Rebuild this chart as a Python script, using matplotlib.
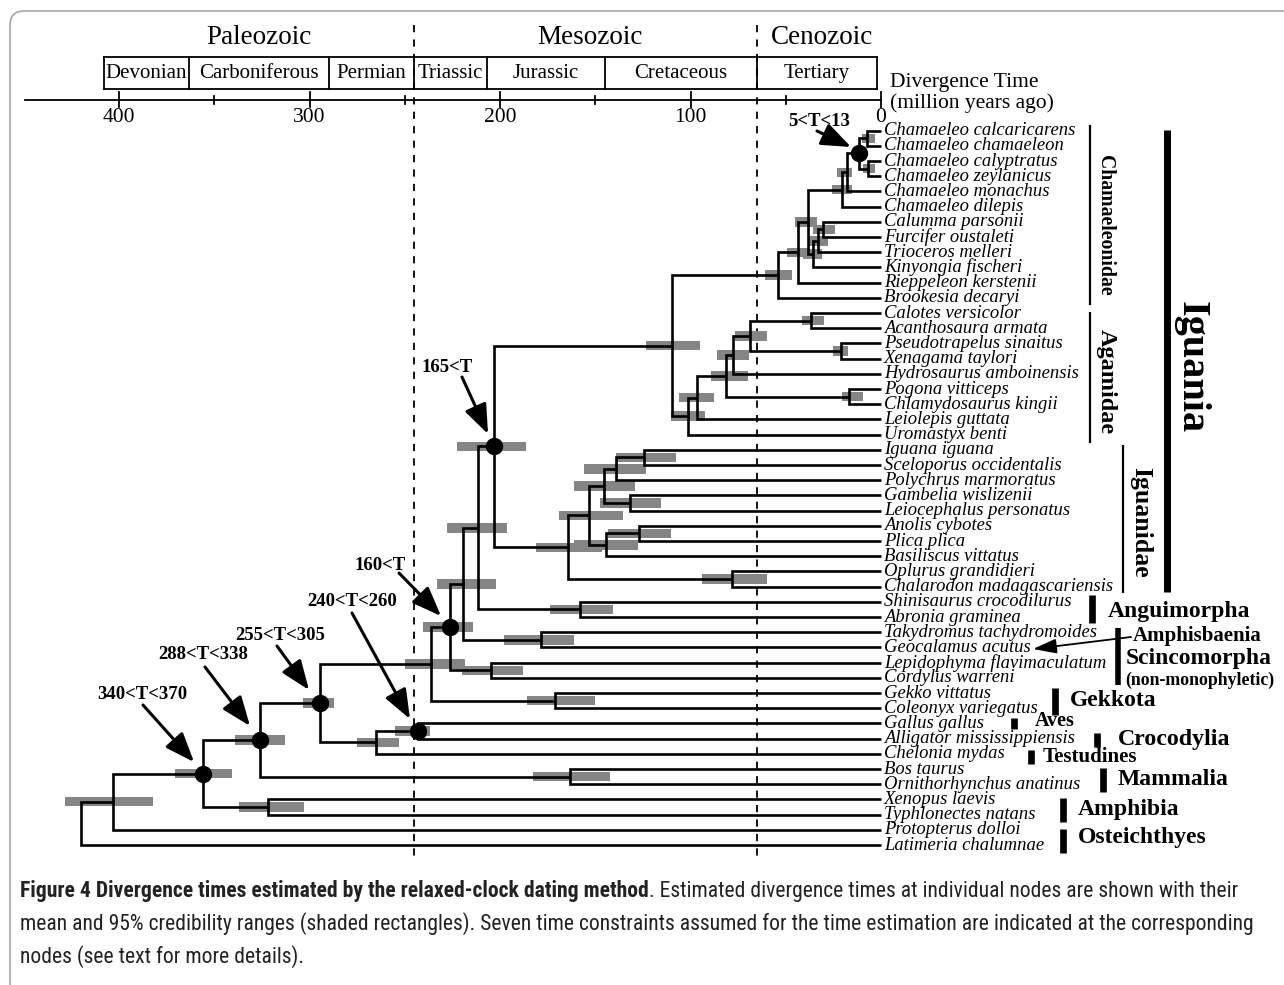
import matplotlib
matplotlib.use("Agg")
import matplotlib.pyplot as plt
from matplotlib.patches import Rectangle, FancyBboxPatch
from matplotlib.path import Path
from matplotlib.patches import PathPatch
from matplotlib import font_manager

# ---------------- data ----------------
taxa = [
    "Chamaeleo calcaricarens", "Chamaeleo chamaeleon", "Chamaeleo calyptratus",
    "Chamaeleo zeylanicus", "Chamaeleo monachus", "Chamaeleo dilepis",
    "Calumma parsonii", "Furcifer oustaleti", "Trioceros melleri",
    "Kinyongia fischeri", "Rieppeleon kerstenii", "Brookesia decaryi",
    "Calotes versicolor", "Acanthosaura armata", "Pseudotrapelus sinaitus",
    "Xenagama taylori", "Hydrosaurus amboinensis", "Pogona vitticeps",
    "Chlamydosaurus kingii", "Leiolepis guttata", "Uromastyx benti",
    "Iguana iguana", "Sceloporus occidentalis", "Polychrus marmoratus",
    "Gambelia wislizenii", "Leiocephalus personatus", "Anolis cybotes",
    "Plica plica", "Basiliscus vittatus", "Oplurus grandidieri",
    "Chalarodon madagascariensis", "Shinisaurus crocodilurus", "Abronia graminea",
    "Takydromus tachydromoides", "Geocalamus acutus", "Lepidophyma flavimaculatum",
    "Cordylus warreni", "Gekko vittatus", "Coleonyx variegatus", "Gallus gallus",
    "Alligator mississippiensis", "Chelonia mydas", "Bos taurus",
    "Ornithorhynchus anatinus", "Xenopus laevis", "Typhlonectes natans",
    "Protopterus dolloi", "Latimeria chalumnae",
]

node_ids = ["n1", "n2", "n3", "n4", "n5", "n6", "n7", "n8", "n9", "n10", "n11",
            "a1", "a2", "a3", "a4", "a5", "a6", "a7", "a8", "acro",
            "i1", "i2", "i3", "i4", "i5", "i6", "i7", "i8", "i9", "igua",
            "angu", "t1", "lace", "t2", "scin", "t3", "gekk", "squa",
            "arch", "arte", "saur", "mamm", "amni", "amph", "tetr", "sarc", "root"]
node_left = ["Chamaeleo calcaricarens", "Chamaeleo calyptratus", "n1", "n3", "n4",
             "Calumma parsonii", "n6", "n7", "n5", "n9", "n10",
             "Calotes versicolor", "Pseudotrapelus sinaitus", "a1", "a3",
             "Pogona vitticeps", "a4", "a6", "a7", "n11",
             "Iguana iguana", "i1", "Gambelia wislizenii", "i2", "Anolis cybotes",
             "i5", "i4", "Oplurus grandidieri", "i7", "acro",
             "Shinisaurus crocodilurus", "igua", "Takydromus tachydromoides", "t1",
             "Lepidophyma flavimaculatum", "t2", "Gekko vittatus", "t3",
             "Gallus gallus", "arch", "squa", "Bos taurus", "saur",
             "Xenopus laevis", "amni", "tetr", "sarc"]
node_right = ["Chamaeleo chamaeleon", "Chamaeleo zeylanicus", "n2", "Chamaeleo monachus",
              "Chamaeleo dilepis", "Furcifer oustaleti", "Trioceros melleri",
              "Kinyongia fischeri", "n8", "Rieppeleon kerstenii", "Brookesia decaryi",
              "Acanthosaura armata", "Xenagama taylori", "a2", "Hydrosaurus amboinensis",
              "Chlamydosaurus kingii", "a5", "Leiolepis guttata", "Uromastyx benti", "a8",
              "Sceloporus occidentalis", "Polychrus marmoratus", "Leiocephalus personatus",
              "i3", "Plica plica", "Basiliscus vittatus", "i6",
              "Chalarodon madagascariensis", "i8", "i9",
              "Abronia graminea", "angu", "Geocalamus acutus", "lace",
              "Cordylus warreni", "scin", "Coleonyx variegatus", "gekk",
              "Alligator mississippiensis", "Chelonia mydas", "arte",
              "Ornithorhynchus anatinus", "mamm", "Typhlonectes natans", "amph",
              "Protopterus dolloi", "Latimeria chalumnae"]
node_age = [7.5, 7.0, 11.5, 18.0, 20.6, 30.3, 32.9, 35.9, 38.2, 43.4, 53.9,
            36.7, 21.2, 68.8, 77.7, 16.8, 81.4, 96.7, 101.5, 109.9,
            124.6, 138.9, 131.7, 145.3, 126.8, 144.3, 153.3, 78.0, 164.4, 203.0,
            158.0, 211.4, 178.5, 219.3, 204.7, 226.2, 171.1, 236.2,
            243.2, 265.1, 294.5, 163.3, 326.0, 321.8, 356.1, 403.3, 420.0]
ci_old = [10.0, 9.4, 15.2, 23.3, 25.9, 35.5, 38.3, 40.9, 45.1, 49.3, 60.9,
          41.6, 25.4, 76.6, 86.1, 20.6, 89.2, 106.0, 110.2, 123.4,
          139.3, 155.7, 147.3, 161.4, 143.3, 161.4, 168.8, 94.1, 181.1, 222.4,
          173.8, 228.0, 197.9, 232.9, 220.1, 240.3, 186.0, 249.9,
          255.1, 274.9, 303.3, 182.7, 339.1, 336.8, 370.6, 428.3, None]
ci_young = [3.2, 3.2, 7.9, 15.4, 15.4, 24.1, 27.8, 31.0, 33.8, 37.3, 46.9,
            29.9, 17.2, 60.0, 69.3, 9.3, 69.8, 87.5, 92.4, 95.0,
            107.6, 123.2, 115.7, 129.2, 110.1, 127.8, 135.6, 59.9, 146.3, 186.4,
            140.5, 196.5, 161.0, 202.1, 187.8, 214.3, 150.1, 218.6,
            236.7, 252.9, 287.0, 142.3, 312.9, 302.7, 340.8, 382.3, None]

constraint_nodes = ["n3", "igua", "t3", "arch", "saur", "amni", "tetr"]
constraint_labels = ["5<T<13", "165<T", "160<T", "240<T<260", "255<T<305",
                     "288<T<338", "340<T<370"]

period_names = ["Devonian", "Carboniferous", "Permian", "Triassic", "Jurassic",
                "Cretaceous", "Tertiary"]
period_bounds = [408, 363, 290, 245, 207, 145, 65, 2]
era_names = ["Paleozoic", "Mesozoic", "Cenozoic"]
era_bounds = [245, 65]
major_ticks = [400, 300, 200, 100, 0]
minor_ticks = [350, 250, 150, 50]

# ---------------- layout helpers (pixel geometry) ----------------
W, H = 1284, 985
X0, PXMA = 881.0, 1.905       # x pixel of 0 Ma, pixels per Ma
Y0, DY = 130.7, 15.2          # y pixel of first taxon, pixels per taxon


def tx(p):
    return (X0 - p) / PXMA


def ty(p):
    return (p - Y0) / DY


SERIF = "Liberation Serif"
fig = plt.figure(figsize=(W / 100, H / 100), dpi=100)
ax = fig.add_axes([0, 0, 1, 1])
ax.set_xlim(tx(0), tx(W))
ax.set_ylim(ty(H), ty(0))
ax.axis("off")

# ---------------- tree ----------------
pos_y = {t: i for i, t in enumerate(taxa)}
pos_x = {t: 0.0 for t in taxa}
LW = 1.9
BAR_H = 9.5 / DY
for nid, a, b, age, lo, hi in zip(node_ids, node_left, node_right, node_age,
                                  ci_young, ci_old):
    ya, yb = pos_y[a], pos_y[b]
    pos_y[nid] = (ya + yb) / 2
    pos_x[nid] = age
    verts = [(pos_x[a], ya), (age, ya), (age, yb), (pos_x[b], yb)]
    ax.add_patch(PathPatch(Path(verts), fill=False, lw=LW, ec="black",
                           joinstyle="miter", capstyle="butt", zorder=3))
    if lo is not None:
        ax.add_patch(Rectangle((lo, pos_y[nid] - BAR_H / 2), hi - lo, BAR_H,
                               fc="#858585", ec="none", zorder=2))

for t in taxa:
    ax.text(tx(884), pos_y[t], t, fontfamily=SERIF, fontstyle="italic",
            fontsize=13.4, ha="left", va="center", zorder=4)

# constraint dots + arrows
label_px = {"n3": (819, 121), "igua": (447, 367), "t3": (380, 565),
            "arch": (352, 601), "saur": (280, 636), "amni": (203, 655),
            "tetr": (142, 695)}
arrow_px = {"n3": ((817, 131), (851, 147)), "igua": ((462, 377), (488, 434)),
            "t3": ((399, 573), (441, 616)), "arch": ((352, 613), (410, 719)),
            "saur": ((277, 646), (309, 690)), "amni": ((205, 667), (250, 726)),
            "tetr": ((143, 705), (194, 762))}
for nid, lab in zip(constraint_nodes, constraint_labels):
    ax.plot(pos_x[nid], pos_y[nid], "o", ms=11.5, color="black", zorder=6)
    lx, ly = label_px[nid]
    ax.text(tx(lx), ty(ly), lab, fontfamily=SERIF, fontweight="bold",
            fontsize=13.5, ha="center", va="center")
    (sx, sy), (ex, ey) = arrow_px[nid]
    ax.annotate("", xy=(tx(ex), ty(ey)), xytext=(tx(sx), ty(sy)),
                arrowprops=dict(arrowstyle="-|>,head_length=0.9,head_width=0.35",
                                lw=2.2, color="black", shrinkA=0, shrinkB=0,
                                mutation_scale=20), zorder=7)

# ---------------- time header ----------------
y_axis = ty(100)
ax.plot([tx(25), 0], [y_axis, y_axis], color="black", lw=1.3)
for t in major_ticks:
    ax.plot([t, t], [ty(92), ty(107)], color="black", lw=1.3)
    ax.text(t, ty(117), str(t), fontfamily=SERIF, fontsize=15.5,
            ha="center", va="center")
for t in minor_ticks:
    ax.plot([t, t], [ty(96), ty(104)], color="black", lw=1.3)

box_top, box_bot = ty(57), ty(89)
ax.plot([period_bounds[0], period_bounds[-1]], [box_top, box_top], color="black", lw=1.3)
ax.plot([period_bounds[0], period_bounds[-1]], [box_bot, box_bot], color="black", lw=1.3)
for b in period_bounds:
    ax.plot([b, b], [box_top, box_bot], color="black", lw=1.3)
for name, l, r in zip(period_names, period_bounds[:-1], period_bounds[1:]):
    ax.text((l + r) / 2, ty(73.5), name, fontfamily=SERIF, fontsize=15,
            ha="center", va="center")

era_centers = [tx(259), tx(590), tx(822)]
for name, c in zip(era_names, era_centers):
    ax.text(c, ty(37), name, fontfamily=SERIF, fontsize=19.5, ha="center", va="center")
for b in era_bounds:
    ax.plot([b, b], [ty(25), ty(862)], color="black", lw=1.3,
            linestyle=(0, (4, 4)), zorder=1)

ax.text(tx(890), ty(83), "Divergence Time", fontfamily=SERIF, fontsize=15.5,
        ha="left", va="center")
ax.text(tx(890), ty(103), "(million years ago)", fontfamily=SERIF, fontsize=15.5,
        ha="left", va="center")

# ---------------- clade annotations ----------------
def vline(xp, y1, y2, lw):
    ax.plot([tx(xp), tx(xp)], [ty(y1), ty(y2)], color="black", lw=lw,
            solid_capstyle="butt")

vline(1090, 125, 305, 1.6)
vline(1090, 312, 443, 1.6)
vline(1123, 445, 593, 1.6)
vline(1166.5, 130, 592, 5.0)
ax.text(tx(1105), ty(225), "Chamaeleonidae", fontfamily=SERIF, fontweight="bold",
        fontsize=14.2, rotation=-90, ha="center", va="center")
ax.text(tx(1106), ty(382), "Agamidae", fontfamily=SERIF, fontweight="bold",
        fontsize=17.5, rotation=-90, ha="center", va="center")
ax.text(tx(1141), ty(522), "Iguanidae", fontfamily=SERIF, fontweight="bold",
        fontsize=18.5, rotation=-90, ha="center", va="center")
ax.text(tx(1191), ty(367), "Iguania", fontfamily=SERIF, fontweight="bold",
        fontsize=29, rotation=-90, ha="center", va="center")

side_groups = [
    ("Anguimorpha", 1091.5, 595, 623, 1108, 611, 17),
    ("Gekkota", 1055, 688, 715, 1070, 701, 17),
    ("Aves", 1013.5, 718, 729, 1035, 721.5, 14.5),
    ("Crocodylia", 1096.5, 733, 747, 1118, 740, 17.2),
    ("Testudines", 1031, 750, 764, 1043, 757, 15),
    ("Mammalia", 1103, 768, 792, 1118, 780, 17),
    ("Amphibia", 1063, 798, 822, 1078, 810, 17),
    ("Osteichthyes", 1063, 829, 853, 1078, 838, 17),
]
for name, bx, b1, b2, lx, ly, fs in side_groups:
    vline(bx, b1, b2, 4.8)
    ax.text(tx(lx), ty(ly), name, fontfamily=SERIF, fontweight="bold",
            fontsize=fs, ha="left", va="center")

vline(1117.5, 628, 685, 4.0)
ax.text(tx(1133), ty(636), "Amphisbaenia", fontfamily=SERIF, fontweight="bold",
        fontsize=15, ha="left", va="center")
ax.text(tx(1126), ty(659), "Scincomorpha", fontfamily=SERIF, fontweight="bold",
        fontsize=17, ha="left", va="center")
ax.text(tx(1125), ty(680), "(non-monophyletic)", fontfamily=SERIF, fontweight="bold",
        fontsize=12.8, ha="left", va="center")
ax.annotate("", xy=(tx(1033), ty(649)), xytext=(tx(1131), ty(637)),
            arrowprops=dict(arrowstyle="-|>,head_length=0.8,head_width=0.25",
                            lw=1.3, color="black", shrinkA=0, shrinkB=0,
                            mutation_scale=18))

# ---------------- border ----------------
border = FancyBboxPatch((10, -30), 1320, H - 11 + 30, boxstyle="round,pad=0,rounding_size=14",
                        transform=None, fc="none", ec="#a6a6a6", lw=1.2)
fig.patches.append(border)

# ---------------- caption ----------------
avail = {f.name for f in font_manager.fontManager.ttflist}
capfam = "DejaVu Sans"
for cand in ["Liberation Sans Narrow", "Roboto Condensed", "Open Sans Condensed",
             "Noto Sans Condensed", "Liberation Sans"]:
    if cand in avail:
        capfam = cand
        break

bold_part = "Figure 4 Divergence times estimated by the relaxed-clock dating method"
rest1 = ". Estimated divergence times at individual nodes are shown with their"
line2 = ("mean and 95% credibility ranges (shaded rectangles). Seven time constraints "
         "assumed for the time estimation are indicated at the corresponding")
line3 = "nodes (see text for more details)."

fig.canvas.draw()
rend = fig.canvas.get_renderer()
probe1 = fig.text(0, 0, bold_part, fontfamily=capfam, fontweight="bold", fontsize=13)
probe2 = fig.text(0, 0, rest1, fontfamily=capfam, fontsize=13)
probe3 = fig.text(0, 0, line2, fontfamily=capfam, fontsize=13)
w1 = probe1.get_window_extent(rend).width + probe2.get_window_extent(rend).width
w2 = probe3.get_window_extent(rend).width
for p in (probe1, probe2, probe3):
    p.remove()
fs = min(13 * 1245 / w1, 13 * 1228 / w2, 17)
capy = [891, 924, 957]
t1 = fig.text(20 / W, 1 - capy[0] / H, bold_part, fontfamily=capfam, fontweight="bold",
              fontsize=fs, va="center", ha="left", color="#222222")
bb = t1.get_window_extent(rend)
fig.text(bb.x1 / W, 1 - capy[0] / H, rest1, fontfamily=capfam, fontsize=fs,
         va="center", ha="left", color="#222222")
fig.text(20 / W, 1 - capy[1] / H, line2, fontfamily=capfam, fontsize=fs,
         va="center", ha="left", color="#222222")
fig.text(20 / W, 1 - capy[2] / H, line3, fontfamily=capfam, fontsize=fs,
         va="center", ha="left", color="#222222")

fig.savefig("out.png", dpi=100)
